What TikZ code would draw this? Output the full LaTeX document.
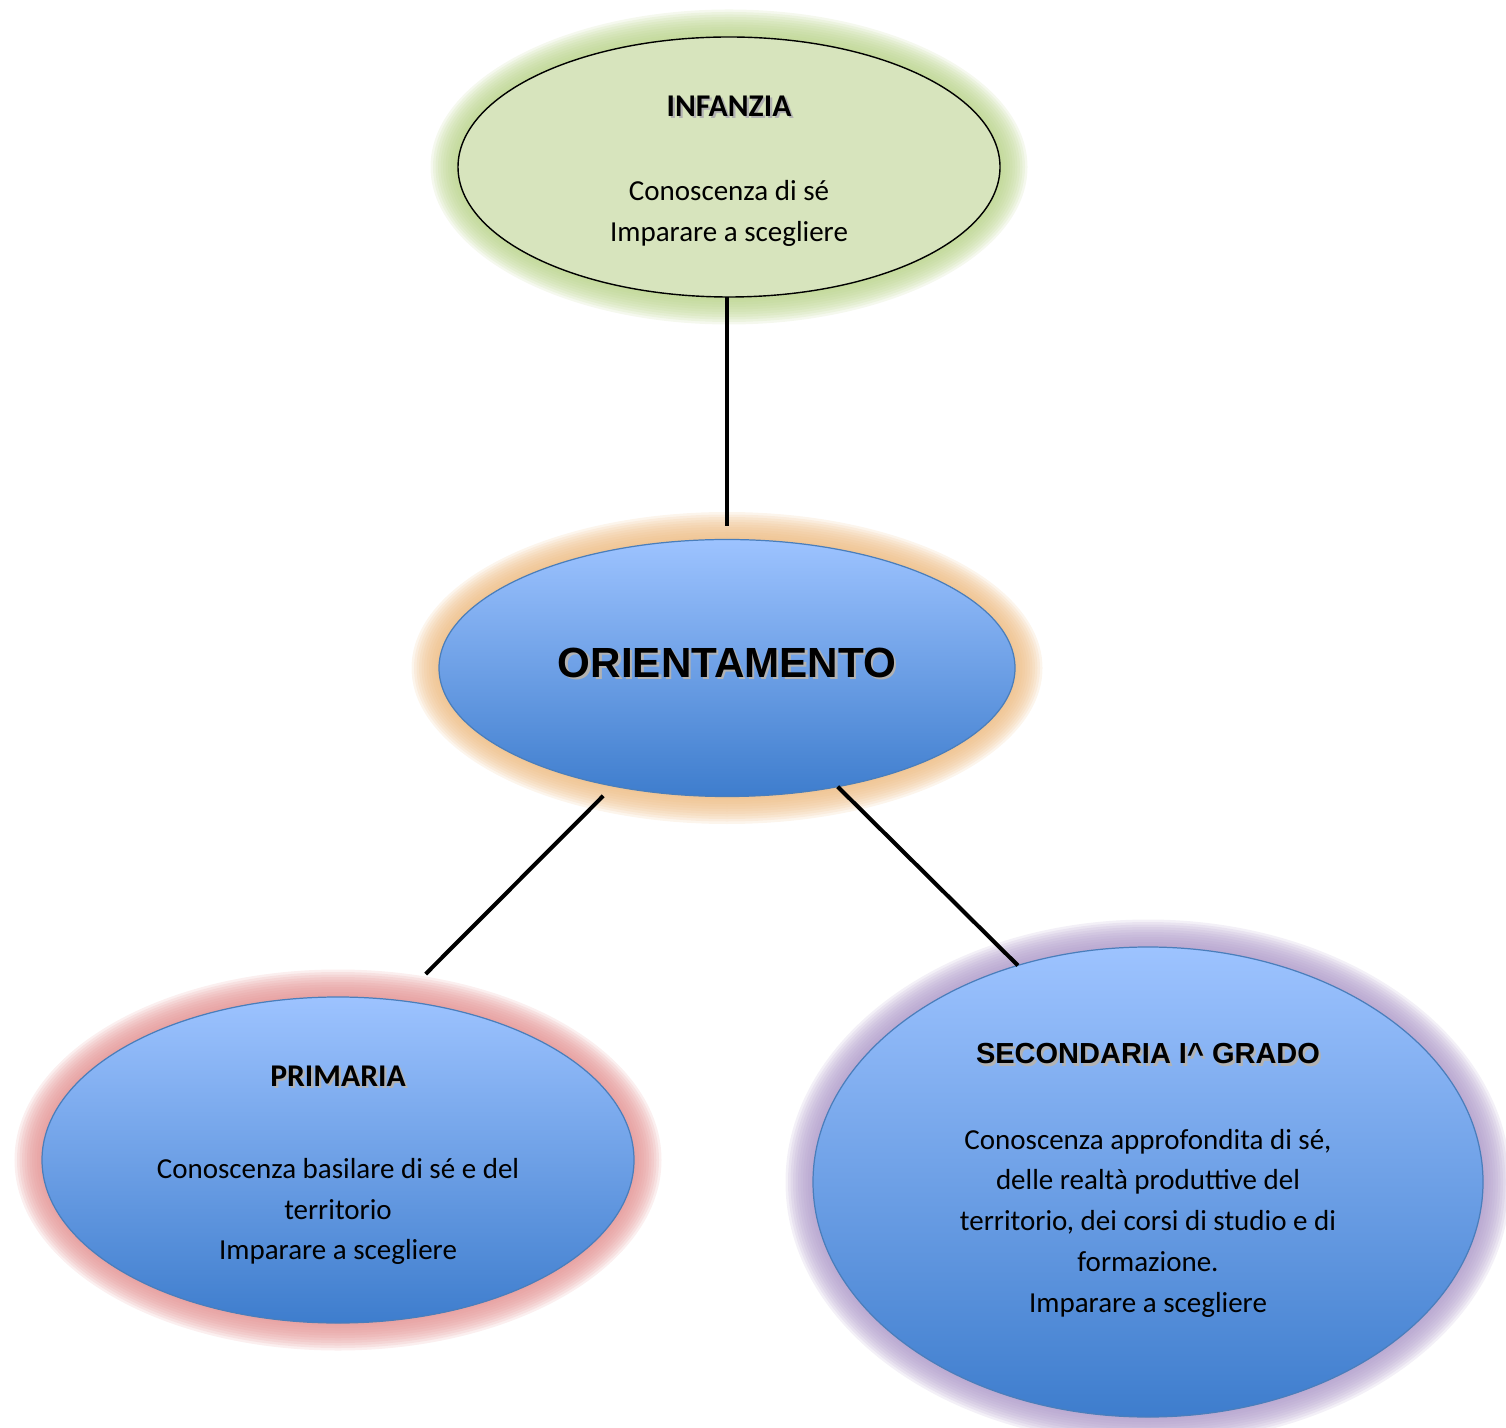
\documentclass[tikz,border=0pt]{standalone}
\usepackage{fontspec}
\setmainfont{Carlito}
\newfontfamily\arialfont{Liberation Sans}
\usepackage{tikz}
\usetikzlibrary{shapes.geometric, positioning}
\definecolor{verdechiaro}{HTML}{D7E4BD}
\definecolor{verdealone}{HTML}{B9D38A}
\definecolor{aranciaalone}{HTML}{EDBB82}
\definecolor{rossoalone}{HTML}{E39292}
\definecolor{violaalone}{HTML}{AE9AC9}
\definecolor{bluchiaro}{HTML}{9DC3FF}
\definecolor{bluscuro}{HTML}{3E7DCD}
\definecolor{bordoblu}{HTML}{4A7EBB}

\newcommand{\conombra}[1]{\makebox[0pt][l]{\kern1.3pt\raisebox{-1.3pt}{\textcolor{black!30}{#1}}}#1}
\newcommand{\alone}[4]{\foreach \g in {1,...,11} {\fill[#4, opacity=0.15] (#1) ellipse ({#2+0.05*\g} and {#3+0.05*\g});}}

\tikzset{
  bolla/.style={ellipse, inner sep=0pt, outer sep=0pt},
  bollablu/.style={bolla, draw=bordoblu, line width=0.7pt, top color=bluchiaro, bottom color=bluscuro},
  bollaverde/.style={bolla, draw=black, line width=0.8pt, fill=verdechiaro},
  collegamento/.style={line width=2.3pt, black},
  titolo/.style={font=\bfseries\fontsize{18}{22}\selectfont},
  titoloarial/.style={font=\arialfont\bfseries\fontsize{16.5}{20}\selectfont},
  testo/.style={align=center, font=\fontsize{16.5}{23.2}\selectfont},
}

\begin{document}
\begin{tikzpicture}
    \useasboundingbox (0,0) rectangle (30.12,28.54);

    % aloni colorati
    \alone{14.58,25.2}{5.42}{2.6}{verdealone}
    \alone{14.54,15.18}{5.76}{2.57}{aranciaalone}
    \alone{6.76,5.34}{5.92}{3.26}{rossoalone}
    \alone{22.96,4.9}{6.7}{4.7}{violaalone}

    % ellissi
    \node[bollaverde, minimum width=10.84cm, minimum height=5.2cm] (infanzia) at (14.58,25.2) {};
    \node[bollablu, minimum width=11.52cm, minimum height=5.14cm] (orient) at (14.54,15.18) {};
    \node[bollablu, minimum width=11.84cm, minimum height=6.52cm] (primaria) at (6.76,5.34) {};
    \node[bollablu, minimum width=13.4cm, minimum height=9.4cm] (secondaria) at (22.96,4.9) {};

    % testi
    \node[titolo] (infanziaTit) at ([yshift=1.2cm]infanzia.center) {\conombra{INFANZIA}};
    \node[testo] (infanziaTxt) at ([yshift=-0.93cm]infanzia.center) {Conoscenza di sé\\Imparare a scegliere};
    \node[font=\arialfont\bfseries\fontsize{24}{28}\selectfont] (orientTit) at ([yshift=0.08cm]orient.center) {\conombra{ORIENTAMENTO}};
    \node[titolo] (primariaTit) at ([yshift=1.66cm]primaria.center) {\conombra{PRIMARIA}};
    \node[testo] (primariaTxt) at ([yshift=-1.03cm]primaria.center) {Conoscenza basilare di sé e del\\territorio\\Imparare a scegliere};
    \node[titoloarial] (secondariaTit) at ([yshift=2.54cm]secondaria.center) {\conombra{SECONDARIA I\^{} GRADO}};
    \node[testo] (secondariaTxt) at ([yshift=-0.82cm]secondaria.center) {Conoscenza approfondita di sé,\\delle realtà produttive del\\territorio, dei corsi di studio e di\\formazione.\\Imparare a scegliere};

    % collegamenti
    \draw[collegamento, shorten >=0.26cm] (infanzia.south -| orient.north) -- (orient.north);
    \draw[collegamento, shorten <=0.28cm, shorten >=0.75cm] (orient.226) -- (primaria.69.5);
    \draw[collegamento] (orient.313.5) -- (secondaria.121.5);
\end{tikzpicture}
\end{document}
